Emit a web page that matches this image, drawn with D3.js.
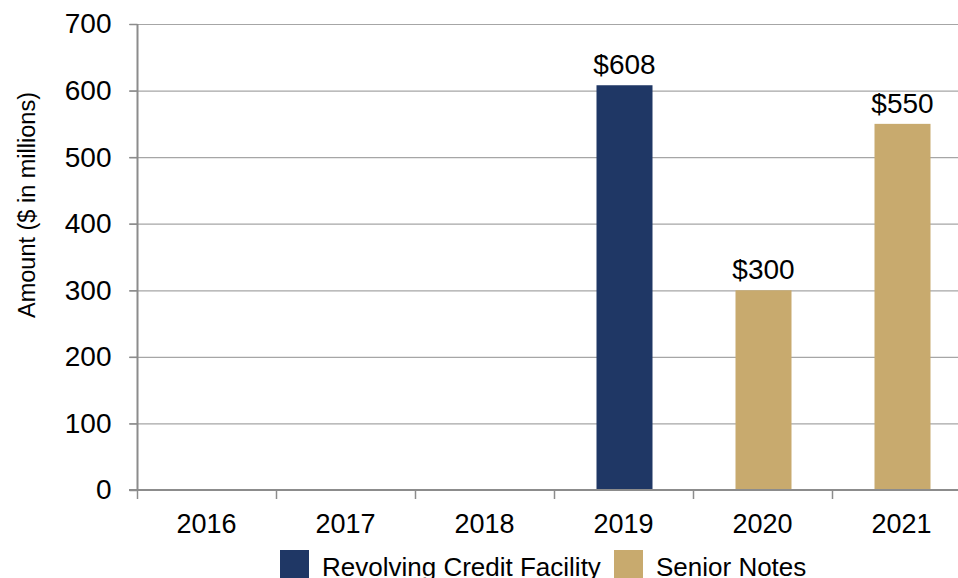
<head><script src="https://d3js.org/d3.v7.min.js"></script></head>
<body style="margin:0">
<svg class="chart" width="958" height="578"></svg>
<script>
  // data
  var years = ["2016", "2017", "2018", "2019", "2020", "2021"];
  var revolving = [0, 0, 0, 608, 0, 0];
  var seniorNotes = [0, 0, 0, 0, 300, 550];
  var seriesNames = ["Revolving Credit Facility", "Senior Notes"];
  var yTicks = [0, 100, 200, 300, 400, 500, 600, 700];

  var colors = ["#1f3765", "#c8aa6e"];
  var svg = d3.select(".chart");
  var font = "'Liberation Sans', Arial, sans-serif";

  var x = d3.scaleBand().domain(years).range([137, 971]).paddingInner(0).paddingOuter(0);
  var y = d3.scaleLinear().domain([0, 700]).range([490, 24]);

  // gridlines
  svg.append("g").selectAll("line").data(yTicks.slice(1)).enter().append("line")
    .attr("x1", 129).attr("x2", 958)
    .attr("y1", function(d) { return y(d) + 0.5; }).attr("y2", function(d) { return y(d) + 0.5; })
    .attr("stroke", "#a6a6a6").attr("stroke-width", 1.2);

  // y axis
  var yAxis = svg.append("g").attr("transform", "translate(137.5,0)")
    .call(d3.axisLeft(y).tickValues(yTicks).tickSize(8).tickPadding(18));
  yAxis.select(".domain").attr("stroke", "#8c8c8c").attr("stroke-width", 2).attr("d", "M0," + y(700) + "V" + y(0));
  yAxis.selectAll(".tick line").attr("stroke", "#8c8c8c").attr("stroke-width", 1.5);
  yAxis.selectAll(".tick text").style("font-family", font).style("font-size", "28px").attr("fill", "#000");

  // series bars
  var series = [revolving, seniorNotes];
  var bw = 56;
  series.forEach(function(vals, si) {
    svg.append("g").selectAll("rect").data(vals).enter()
      .filter(function(d) { return d > 0; })
      .append("rect")
      .attr("x", function(d) { return x(years[vals.indexOf(d)]) + x.bandwidth() / 2 - bw / 2 + 1; })
      .attr("y", function(d) { return y(d); })
      .attr("width", bw)
      .attr("height", function(d) { return y(0) - y(d); })
      .attr("fill", colors[si]);
    svg.append("g").selectAll("text").data(vals).enter()
      .filter(function(d) { return d > 0; })
      .append("text")
      .attr("x", function(d) { return x(years[vals.indexOf(d)]) + x.bandwidth() / 2 + 1; })
      .attr("y", function(d) { return y(d) - 11; })
      .attr("text-anchor", "middle")
      .style("font-family", font).style("font-size", "28px")
      .text(function(d) { return "$" + d; });
  });

  // x axis
  var xAxis = svg.append("g").attr("transform", "translate(0,490)")
    .call(d3.axisBottom(x).tickSize(0).tickPadding(24));
  xAxis.select(".domain").remove();
  xAxis.append("line").attr("x1", 129).attr("x2", 958).attr("y1", 0).attr("y2", 0)
    .attr("stroke", "#8c8c8c").attr("stroke-width", 2);
  xAxis.selectAll(".sep").data(years).enter().append("line")
    .attr("x1", function(d) { return x(d) + 0.5; }).attr("x2", function(d) { return x(d) + 0.5; })
    .attr("y1", 0).attr("y2", 9).attr("stroke", "#8c8c8c").attr("stroke-width", 1.5);
  xAxis.selectAll(".tick text").style("font-family", font).style("font-size", "27px").attr("fill", "#000");

  // y label
  svg.append("text")
    .attr("transform", "translate(35,205) rotate(-90)")
    .attr("text-anchor", "middle")
    .style("font-family", font).style("font-size", "23.5px")
    .text("Amount ($ in millions)");

  // legend
  var legendX = [280, 614];
  seriesNames.forEach(function(n, i) {
    svg.append("rect").attr("x", legendX[i]).attr("y", 550).attr("width", 29).attr("height", 29).attr("fill", colors[i]);
    svg.append("text").attr("x", legendX[i] + 42).attr("y", 576)
      .style("font-family", font).style("font-size", "26px").text(n);
  });
</script>
</body>
